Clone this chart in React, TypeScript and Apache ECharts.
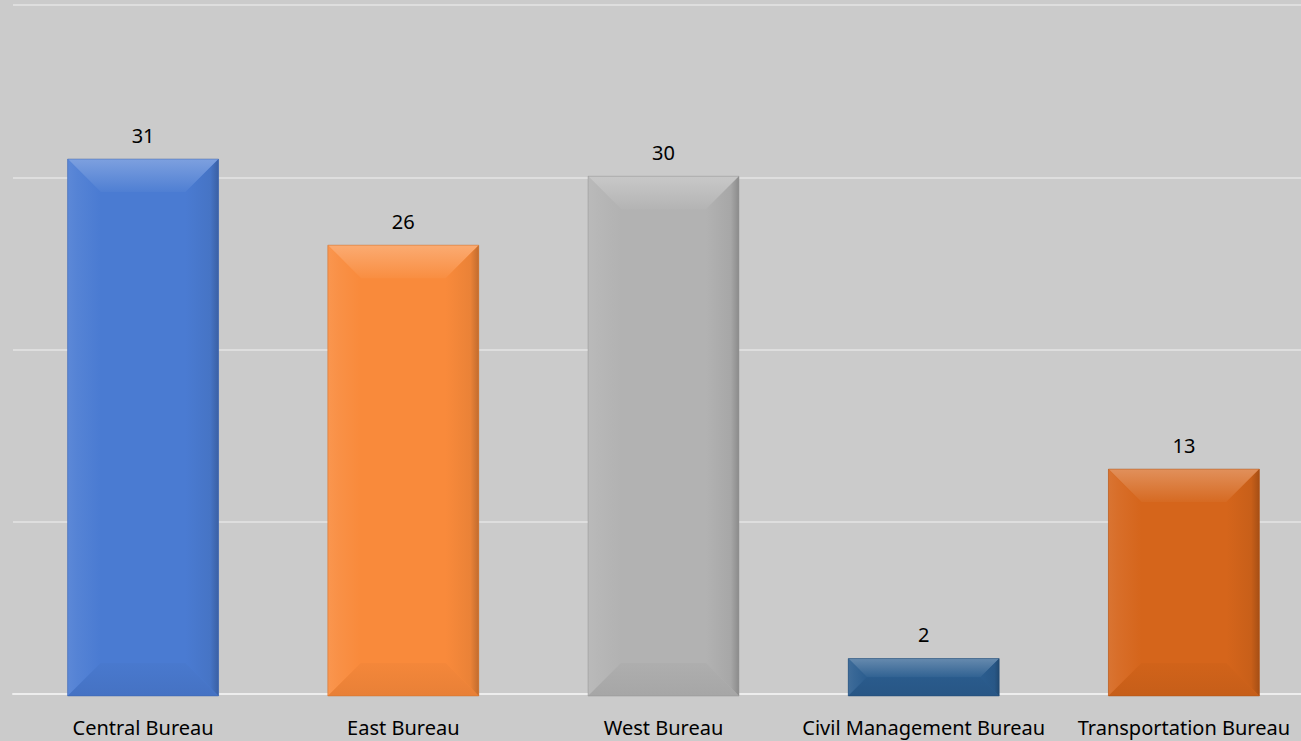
import React, { useEffect, useRef } from "react";
import * as echarts from "echarts";

const categories = [
  "Central Bureau",
  "East Bureau",
  "West Bureau",
  "Civil Management Bureau",
  "Transportation Bureau",
];
const values = [31, 26, 30, 2, 13];
const barColors = ["#4a7bd2", "#f98a3b", "#b2b2b2", "#2b5d8f", "#d5651b"];
const yTicks = { min: 0, max: 40, interval: 10 };

function shade(hex: string, amt: number): string {
  const n = parseInt(hex.slice(1), 16);
  let r = (n >> 16) & 255,
    g = (n >> 8) & 255,
    b = n & 255;
  if (amt >= 0) {
    r = r + (255 - r) * amt;
    g = g + (255 - g) * amt;
    b = b + (255 - b) * amt;
  } else {
    r = r * (1 + amt);
    g = g * (1 + amt);
    b = b * (1 + amt);
  }
  const h = (v: number) => Math.round(Math.max(0, Math.min(255, v))).toString(16).padStart(2, "0");
  return "#" + h(r) + h(g) + h(b);
}

export default function App() {
  const ref = useRef<HTMLDivElement>(null);
  useEffect(() => {
    if (!ref.current) return;
    const chart = echarts.init(ref.current, null, { renderer: "svg" });
    const font = "'Noto Sans', 'Open Sans', sans-serif";
    chart.setOption({
      animation: false,
      backgroundColor: "#cbcbcb",
      grid: { left: 13, top: 5, right: 0, bottom: 47, containLabel: false },
      xAxis: {
        type: "category",
        data: categories,
        axisTick: { show: false },
        axisLine: { show: true, lineStyle: { color: "#ededed", width: 2 } },
        axisLabel: {
          color: "#000",
          fontSize: 20,
          fontFamily: font,
          margin: 23,
          interval: 0,
        },
      },
      yAxis: {
        type: "value",
        min: yTicks.min,
        max: yTicks.max,
        interval: yTicks.interval,
        axisLabel: { show: false },
        axisLine: { show: false },
        axisTick: { show: false },
        splitLine: { lineStyle: { color: "#dedede", width: 2 } },
      },
      series: [
        {
          type: "custom",
          data: values.map((v, i) => [i, v]),
          encode: { x: 0, y: 1 },
          z: 5,
          renderItem: (params: any, api: any) => {
            const idx = api.value(0);
            const val = api.value(1);
            const top = api.coord([idx, val]);
            const base = api.coord([idx, 0]);
            const bw = api.size([1, 0])[0] * 0.58;
            const x0 = top[0] - bw / 2;
            const x1 = top[0] + bw / 2;
            const y0 = top[1] - 1;
            const y1 = base[1] + 2;
            const h = y1 - y0;
            const bv = Math.min(33, h / 2, bw / 2);
            const c = barColors[params.dataIndex];
            return {
              type: "group",
              children: [
                {
                  type: "rect",
                  shape: { x: x0, y: y0, width: bw, height: h },
                  style: { fill: c },
                },
                {
                  type: "polygon",
                  shape: { points: [[x0, y0], [x1, y0], [x1 - bv, y0 + bv], [x0 + bv, y0 + bv]] },
                  style: {
                    fill: new echarts.graphic.LinearGradient(0, 0, 0, 1, [
                      { offset: 0, color: shade(c, 0.28) },
                      { offset: 1, color: shade(c, 0.03) },
                    ]),
                  },
                },
                {
                  type: "polygon",
                  shape: { points: [[x0, y0], [x0 + bv, y0 + bv], [x0 + bv, y1 - bv], [x0, y1]] },
                  style: {
                    fill: new echarts.graphic.LinearGradient(0, 0, 1, 0, [
                      { offset: 0, color: shade(c, 0.1) },
                      { offset: 0.3, color: shade(c, 0.06) },
                      { offset: 1, color: shade(c, 0.0) },
                    ]),
                  },
                },
                {
                  type: "polygon",
                  shape: { points: [[x1, y0], [x1, y1], [x1 - bv, y1 - bv], [x1 - bv, y0 + bv]] },
                  style: {
                    fill: new echarts.graphic.LinearGradient(0, 0, 1, 0, [
                      { offset: 0, color: shade(c, 0) },
                      { offset: 0.75, color: shade(c, -0.06) },
                      { offset: 1, color: shade(c, -0.22) },
                    ]),
                  },
                },
                {
                  type: "polygon",
                  shape: { points: [[x0, y1], [x0 + bv, y1 - bv], [x1 - bv, y1 - bv], [x1, y1]] },
                  style: {
                    fill: new echarts.graphic.LinearGradient(0, 0, 0, 1, [
                      { offset: 0, color: shade(c, -0.02) },
                      { offset: 1, color: shade(c, -0.07) },
                    ]),
                  },
                },
                {
                  type: "rect",
                  shape: { x: x0, y: y0, width: bw, height: h },
                  style: { fill: "none", stroke: shade(c, -0.2), lineWidth: 1, opacity: 0.45 },
                },
                {
                  type: "text",
                  x: top[0],
                  y: y0 - 24,
                  style: {
                    text: String(val),
                    fill: "#000",
                    fontSize: 20,
                    fontFamily: font,
                    align: "center",
                    verticalAlign: "middle",
                  },
                },
              ],
            };
          },
        },
      ],
    });
    return () => chart.dispose();
  }, []);
  return (
    <div
      style={{
        position: "absolute",
        left: 0,
        top: 0,
        width: 1301,
        height: 741,
        overflow: "hidden",
        background: "#cbcbcb",
      }}
    >
      <div ref={ref} style={{ width: 1314, height: 741 }} />
    </div>
  );
}
